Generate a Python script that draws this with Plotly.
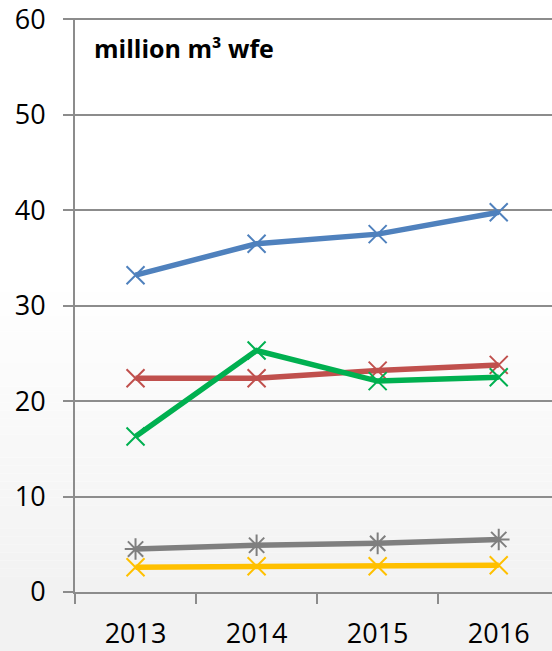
import plotly.graph_objects as go

# Annual volumes, million m³ water-filled equivalent
years = ["2013", "2014", "2015", "2016"]
series_blue = [33.2, 36.5, 37.5, 39.8]
series_red = [22.4, 22.4, 23.2, 23.8]
series_green = [16.3, 25.3, 22.1, 22.5]
series_gray = [4.5, 4.9, 5.1, 5.5]
series_yellow = [2.6, 2.7, 2.7, 2.8]

y_ticks = [0, 10, 20, 30, 40, 50, 60]
unit_label = "million m³ wfe"

FONT = "Open Sans"

styles = [
    (series_blue, "#4F81BD", "x-thin-open"),
    (series_red, "#C0504D", "x-thin-open"),
    (series_green, "#00B050", "x-thin-open"),
    (series_gray, "#7F7F7F", "asterisk-open"),
    (series_yellow, "#FFC000", "x-thin-open"),
]

fig = go.Figure()
for values, color, symbol in styles:
    fig.add_trace(go.Scatter(
        x=years, y=values, mode="lines+markers",
        line=dict(color=color, width=5.5),
        marker=dict(symbol=symbol, size=18, color=color,
                    line=dict(color=color, width=2)),
        showlegend=False, cliponaxis=False,
    ))

# soft vertical fade toward the bottom of the page
shapes = []
n = 40
start = 0.55
for i in range(n):
    y0 = start * i / n
    y1 = start * (i + 1) / n
    t = 1 - (i + 0.5) / n
    g = int(round(255 - 13 * t))
    shapes.append(dict(type="rect", xref="paper", yref="paper",
                       x0=-0.2, x1=1.1, y0=y0 - 0.12 if i == 0 else y0, y1=y1,
                       fillcolor=f"rgb({g},{g},{g})", line=dict(width=0),
                       layer="below"))

fig.update_layout(
    width=552, height=651,
    margin=dict(l=75, r=0, t=18, b=57),
    paper_bgcolor="white", plot_bgcolor="rgba(0,0,0,0)",
    shapes=shapes,
    font=dict(family=FONT, color="black"),
    annotations=[dict(text=f"<b>{unit_label}</b>", xref="paper", yref="paper",
                      x=0.035, y=0.947, xanchor="left", yanchor="middle",
                      showarrow=False, font=dict(size=25, family=FONT))],
)
fig.update_xaxes(
    type="category", range=[-0.5, 3.44],
    showgrid=False, showline=True, linecolor="#8C8C8C", linewidth=2,
    ticks="outside", tickson="boundaries", ticklen=10, tickwidth=2,
    tickcolor="#8C8C8C", tickfont=dict(size=27, family=FONT),
    ticklabelstandoff=17,
)
fig.update_yaxes(
    range=[0, 60.15], tickvals=y_ticks,
    showgrid=True, gridcolor="#8C8C8C", gridwidth=2,
    showline=True, linecolor="#8C8C8C", linewidth=2,
    ticks="outside", ticklen=10, tickwidth=2, tickcolor="#8C8C8C",
    tickfont=dict(size=27, family=FONT), zeroline=False,
    ticklabelstandoff=12, ticklabeloverflow="allow",
)

fig.write_html("out.html")
